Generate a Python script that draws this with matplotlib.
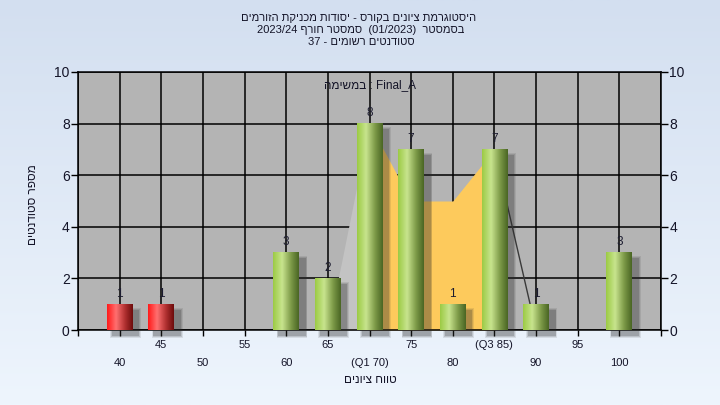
import matplotlib
matplotlib.use("Agg")
import matplotlib.pyplot as plt
import numpy as np
from matplotlib.colors import LinearSegmentedColormap
from matplotlib.patches import Rectangle

plt.rcParams['font.family'] = ['Liberation Sans', 'DejaVu Sans']

# ---- data ----
grades = [40, 45, 50, 55, 60, 65, 70, 75, 80, 85, 90, 95, 100]
counts = [1, 1, 0, 0, 3, 2, 8, 7, 1, 7, 1, 0, 3]
failing = [True, True, False, False, False, False, False, False, False, False, False, False, False]
row1_labels = ['45', '55', '65', '75', '(Q3 85)', '95']
row1_grades = [45, 55, 65, 75, 85, 95]
row2_labels = ['40', '50', '60', '(Q1 70)', '80', '90', '100']
row2_grades = [40, 50, 60, 70, 80, 90, 100]
low_grades = [65, 70]
low_values = [0, 8]
iqr_grades = [70, 75, 80, 85]
iqr_values = [8, 5, 5, 7]
high_grades = [85, 90, 95, 100]
high_values = [7, 0, 0, 0]
yticks = [0, 2, 4, 6, 8, 10]


def heb(s):
    return s[::-1]

title1 = heb("היסטוגרמת ציונים בקורס - יסודות מכניקת הזורמים")
title2 = "2023/24 " + heb("סמסטר חורף") + "  (01/2023)  " + heb("בסמסטר")
title3 = "37 - " + heb("סטודנטים רשומים")
task_label = heb("במשימה") + " : Final_A"
xlabel = heb("טווח ציונים")
ylabel = heb("מספר סטודנטים")

idx = {g: i for i, g in enumerate(grades)}

fig = plt.figure(figsize=(7.2, 4.05), dpi=100)

# background gradient
bg = fig.add_axes([0, 0, 1, 1], zorder=-10)
grad = np.linspace(0, 1, 256).reshape(-1, 1)
bg_cmap = LinearSegmentedColormap.from_list('bg', ['#d3dff0', '#eef5fd'])
bg.imshow(grad, aspect='auto', cmap=bg_cmap, extent=(0, 1, 0, 1))
bg.set_axis_off()

ax = fig.add_axes([78/720, 1-330/405, (661-78)/720, (330-72)/405])
ax.set_facecolor('#b4b4b4')

xmin, xmax = -1, len(grades)
ax.set_xlim(xmin, xmax)
ax.set_ylim(0, 10)

# gridlines
for y in yticks:
    ax.axhline(y, color='black', lw=1.1, zorder=1)
for i in range(xmin, xmax + 1):
    ax.axvline(i, color='black', lw=1.1, zorder=1)

# areas
ax.fill_between([idx[g] for g in low_grades], low_values, 0, color='#c3c3c3', lw=0, zorder=2)
ax.fill_between([idx[g] for g in iqr_grades], iqr_values, 0, color='#fdca5c', lw=0, zorder=2)
ax.plot([idx[g] for g in high_grades], high_values, color='#3a3a3a', lw=1.0, zorder=2.5)

# bars
w = 0.62
green_cmap = LinearSegmentedColormap.from_list('g', [(0, '#9ccb45'), (0.35, '#c8e48e'), (0.7, '#7d9a48'), (1, '#4a6624')])
red_cmap = LinearSegmentedColormap.from_list('r', [(0, '#ff1a1a'), (0.35, '#ff7070'), (0.7, '#b03030'), (1, '#6e0c0c')])
hgrad = np.linspace(0, 1, 64).reshape(1, -1)
for i, (c, f) in enumerate(zip(counts, failing)):
    if c <= 0:
        continue
    # shadow
    for k, a in enumerate([0.10, 0.14, 0.20]):
        e = 0.06 - k * 0.02
        ax.add_patch(Rectangle((i - w/2 + 0.14 - e, -0.2 - e*2), w + 2*e, c + 2*e*2 - 0.05,
                               facecolor='#2a2a2a', alpha=a, lw=0, zorder=2.8, clip_on=False))
    ax.imshow(hgrad, aspect='auto', cmap=red_cmap if f else green_cmap,
              extent=(i - w/2, i + w/2, 0, c), zorder=3, interpolation='bilinear')
    ax.text(i, c + 0.18, str(c), ha='center', va='bottom', fontsize=8.5, color='#1c1c30', zorder=4)

ax.set_xlim(xmin, xmax)
ax.set_ylim(0, 10)

# ticks
ax.set_xticks([idx[g] for g in row1_grades])
ax.set_xticklabels(row1_labels)
ax.set_xticks([xmin] + [idx[g] for g in row2_grades] + [xmax], minor=True)
ax.set_xticklabels([''] + row2_labels + [''], minor=True)
ax.tick_params(axis='x', which='major', length=4, width=1, pad=3, labelsize=8, colors='black')
ax.tick_params(axis='x', which='minor', length=4, width=1, pad=16, labelsize=8, colors='black')
ax.set_yticks(yticks)
ax.tick_params(axis='y', which='both', length=5, width=1, labelsize=10, left=True, right=True,
               labelleft=True, labelright=True, pad=1, colors='black')
for lab in ax.get_xticklabels(minor=False) + ax.get_xticklabels(minor=True) + ax.get_yticklabels():
    lab.set_color('#141428')
for sp in ax.spines.values():
    sp.set_color('black')
    sp.set_linewidth(1.1)

ax.text(0.5, 0.95, task_label, transform=ax.transAxes, ha='center', va='center', fontsize=8.5, color='#141428', zorder=5)

fig.text(359/720, 1-18/405, title1, ha='center', va='center', fontsize=8, color='#141428')
fig.text(361/720, 1-30/405, title2, ha='center', va='center', fontsize=8, color='#141428')
fig.text(361/720, 1-42/405, title3, ha='center', va='center', fontsize=8, color='#141428')
fig.text(370/720, 1-380/405, xlabel, ha='center', va='center', fontsize=8.5, color='#141428')
fig.text(33/720, 1-205/405, ylabel, ha='center', va='center', rotation=90, fontsize=8.5, color='#141428')

fig.savefig('out.png', dpi=100)
